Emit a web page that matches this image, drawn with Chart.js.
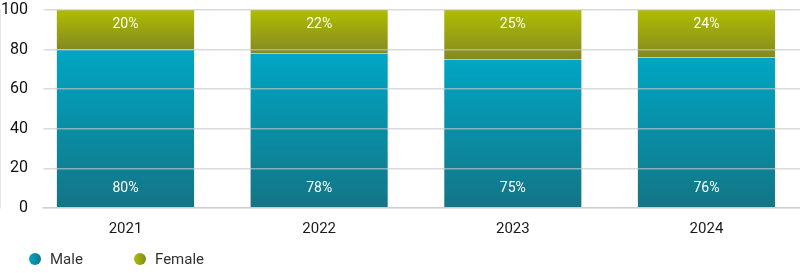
<!DOCTYPE html>
<html>
<head>
<meta charset="utf-8">
<script src="https://cdn.jsdelivr.net/npm/chart.js@4.4.1/dist/chart.umd.min.js"></script>
<style>
  html, body { margin: 0; padding: 0; background: #fff; }
  #wrap { position: relative; width: 800px; height: 273px; }
  #legend { position: absolute; left: 0; top: 249px; height: 20px; font: 15px Roboto, sans-serif; color: #333; }
  .item { position: absolute; top: 0; white-space: nowrap; line-height: 20px; }
  .dot { position: absolute; top: 4px; width: 12px; height: 12px; border-radius: 50%; }
</style>
</head>
<body>
<div id="wrap">
  <canvas id="genderChart" width="800" height="273"></canvas>
  <div id="legend"></div>
</div>
<script>
// ==========================
// GENDER SPLIT STACKED BARS
// ==========================
const years = ["2021", "2022", "2023", "2024"];
const male = [80, 78, 75, 76];
const female = [20, 22, 25, 24];
const yTicks = [0, 20, 40, 60, 80, 100];

const seriesNames = ["Male", "Female"];
const maleColors = ["#00a6c4", "#137585"];
const femaleColors = ["#afbd00", "#838922"];

// vertical gradient per segment, from the segment's top to its bottom
function segmentGradient(ctx, colors, isMale) {
  const chart = ctx.chart;
  const area = chart.chartArea;
  if (!area) return colors[0];
  const y = chart.scales.y;
  const i = ctx.dataIndex;
  const top = isMale ? y.getPixelForValue(male[i]) : y.getPixelForValue(male[i] + female[i]);
  const bottom = isMale ? y.getPixelForValue(0) : y.getPixelForValue(male[i]);
  const g = chart.ctx.createLinearGradient(0, top, 0, bottom);
  g.addColorStop(0, colors[0]);
  g.addColorStop(1, colors[1]);
  return g;
}

// percent labels: male at the foot of the bar, female at the top
const valueLabels = {
  id: "valueLabels",
  afterDatasetsDraw(chart) {
    const c = chart.ctx;
    c.save();
    c.fillStyle = "#ffffff";
    c.font = "14px Roboto, sans-serif";
    c.textAlign = "center";
    c.textBaseline = "middle";
    chart.data.datasets.forEach((ds, d) => {
      chart.getDatasetMeta(d).data.forEach((bar, i) => {
        const v = d === 0 ? male[i] : female[i];
        const yPos = d === 0 ? bar.base - 19 : bar.y + 14;
        c.fillText(v + "%", bar.x, yPos);
      });
    });
    c.restore();
  }
};

const ctx = document.getElementById("genderChart").getContext("2d");

const sideBorder = { left: 1, right: 1, top: 0, bottom: 0 };

new Chart(ctx, {
  type: "bar",
  data: {
    datasets: [
      {
        label: seriesNames[0],
        data: male.map((v, i) => ({ x: i, y: v })),
        backgroundColor: c => segmentGradient(c, maleColors, true),
        borderColor: "rgba(215,215,195,0.35)",
        borderWidth: sideBorder,
        borderSkipped: false
      },
      {
        label: seriesNames[1],
        data: female.map((v, i) => ({ x: i, y: v })),
        backgroundColor: c => segmentGradient(c, femaleColors, false),
        borderColor: "rgba(215,215,195,0.35)",
        borderWidth: sideBorder,
        borderSkipped: false
      }
    ]
  },
  options: {
    responsive: false,
    animation: false,
    barPercentage: 0.718,
    categoryPercentage: 1,
    layout: { padding: { top: 10, right: 0, left: 0, bottom: 0 } },
    plugins: {
      legend: { display: false },
      tooltip: { enabled: false }
    },
    scales: {
      x: {
        type: "linear",
        stacked: true,
        offset: false,
        min: -0.426,
        max: 3.483,
        afterBuildTicks: s => { s.ticks = years.map((_, i) => ({ value: i })); },
        afterFit: s => { s.height = 65; s.paddingLeft = 0; s.paddingRight = 0; },
        ticks: {
          callback: v => years[v],
          color: "#1a1a1a",
          font: { family: "Roboto", size: 15 },
          padding: 12,
          maxRotation: 0,
          autoSkip: false
        },
        grid: { display: false, drawTicks: false },
        border: { display: true, color: "#dcdcdc", width: 1.5 }
      },
      y: {
        stacked: true,
        min: 0,
        max: 100,
        afterBuildTicks: s => { s.ticks = yTicks.map(v => ({ value: v })); },
        afterFit: s => { s.width = 43; s.paddingTop = 10; s.paddingBottom = 0; },
        ticks: {
          color: "#111",
          font: { family: "Roboto", size: 16 },
          padding: 15
        },
        grid: { color: "rgba(200,200,200,0.65)", lineWidth: 1.5, drawTicks: false, z: 1 },
        border: { display: true, color: "#dcdcdc", width: 1.5 }
      }
    }
  },
  plugins: [valueLabels]
});

// legend below the axis
const legend = document.getElementById("legend");
const legendPos = [29, 134];
seriesNames.forEach((name, i) => {
  const cols = i === 0 ? maleColors : femaleColors;
  const item = document.createElement("div");
  item.className = "item";
  item.style.left = legendPos[i] + "px";
  item.innerHTML = `<span class="dot" style="background:linear-gradient(90deg, ${cols[0]}, ${cols[1]})"></span>` +
    `<span style="margin-left:21px">${name}</span>`;
  legend.appendChild(item);
});
</script>
</body>
</html>
